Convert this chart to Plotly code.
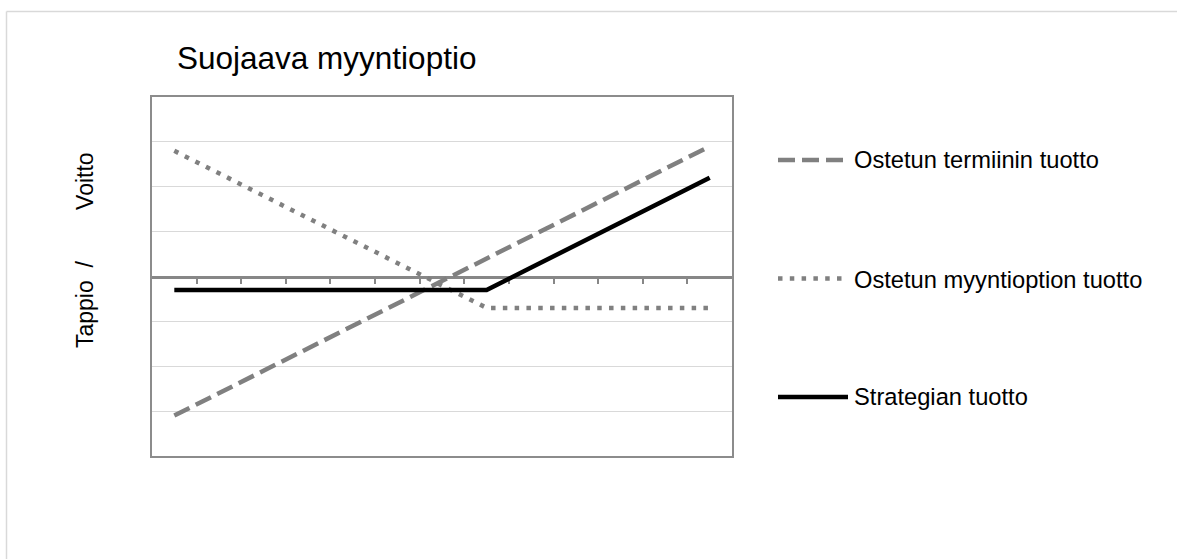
import plotly.graph_objects as go

# Payoff data (arbitrary units, one gridline = 10)
categories = list(range(13))
termiini = [-31, -26, -21, -16, -11, -6, -1, 4, 9, 14, 19, 24, 29]
myyntioptio = [28, 23, 18, 13, 8, 3, -2, -7, -7, -7, -7, -7, -7]
strategia = [-3, -3, -3, -3, -3, -3, -3, -3, 2, 7, 12, 17, 22]

series_names = ["Ostetun termiinin tuotto", "Ostetun myyntioption tuotto", "Strategian tuotto"]
title_text = "Suojaava myyntioptio"
NB = "\u00a0"
y_title = "Tappio" + NB * 2 + "/" + NB * 8 + "Voitto"

W, H = 1177, 559
FONT = "Liberation Sans, Arial, sans-serif"
GRAY = "#808080"


def fx(p):
    return p / W


def fy(p):
    return 1 - p / H


# plot area in pixels
PL, PR, PT, PB = 152, 732, 97, 456
ydom = [fy(PB), fy(PT)]

styles = [
    dict(color=GRAY, width=4.5, dash="17px,7px"),
    dict(color=GRAY, width=4.5, dash="4.5px,7.3px"),
    dict(color="#000000", width=4.5, dash="solid"),
]
values = [termiini, myyntioptio, strategia]

fig = go.Figure()

for name, vals, st in zip(series_names, values, styles):
    fig.add_trace(go.Scatter(
        x=categories, y=vals, name=name, mode="lines",
        line=st, showlegend=False, hoverinfo="skip",
        xaxis="x", yaxis="y",
    ))

# carrier trace for the category axis crossing at zero
fig.add_trace(go.Scatter(
    x=categories, y=[0] * len(categories), mode="lines",
    line=dict(width=0), showlegend=False, hoverinfo="skip",
    xaxis="x2", yaxis="y",
))

# legend keys drawn on their own small axes
legend_rows = [2, 1, 0]
for name, st, row in zip(series_names, styles, legend_rows):
    fig.add_trace(go.Scatter(
        x=[0, 1], y=[row, row], mode="lines", line=st,
        showlegend=False, hoverinfo="skip", xaxis="x3", yaxis="y3",
    ))

row_px = [160, 280, 397]
unit = (row_px[2] - row_px[0]) / 2.0
leg_top = row_px[0] - 0.5 * unit
leg_bot = row_px[2] + 0.5 * unit

annotations = [
    dict(text=title_text, x=fx(175), y=fy(58), xref="paper", yref="paper",
         xanchor="left", yanchor="middle", showarrow=False,
         font=dict(family=FONT, size=31.5, color="#000000")),
    dict(text=y_title, x=fx(85), y=fy(250), xref="paper", yref="paper",
         xanchor="center", yanchor="middle", textangle=-90, showarrow=False,
         font=dict(family=FONT, size=23, color="#000000")),
]
for name, py in zip(series_names, row_px):
    annotations.append(dict(
        text=name, x=fx(852), y=fy(py), xref="paper", yref="paper",
        xanchor="left", yanchor="middle", showarrow=False,
        font=dict(family=FONT, size=23.7, color="#000000"),
    ))

# chart-area frame (top and left edges fall inside the page)
frame = dict(color="#d9d9d9", width=1.5)
shapes = [
    dict(type="line", xref="paper", yref="paper",
         x0=fx(6.5), x1=1.0, y0=fy(11.5), y1=fy(11.5), line=frame, layer="below"),
    dict(type="line", xref="paper", yref="paper",
         x0=fx(6.5), x1=fx(6.5), y0=0.0, y1=fy(11.5), line=frame, layer="below"),
]

fig.update_layout(
    width=W, height=H,
    margin=dict(l=0, r=0, t=0, b=0),
    paper_bgcolor="white", plot_bgcolor="white",
    showlegend=False,
    xaxis=dict(
        domain=[fx(PL), fx(PR)], range=[-0.5, 12.5], anchor="y",
        showline=True, mirror=True, linecolor="#8c8c8c", linewidth=1.5,
        showgrid=False, zeroline=False, showticklabels=False, ticks="",
        fixedrange=True,
    ),
    yaxis=dict(
        domain=ydom, range=[-40, 40], tick0=0, dtick=10, anchor="x",
        showgrid=True, gridcolor="#d9d9d9", gridwidth=1,
        showline=True, mirror=True, linecolor="#8c8c8c", linewidth=1.5,
        zeroline=False, showticklabels=False, ticks="",
        fixedrange=True,
    ),
    xaxis2=dict(
        overlaying="x", anchor="free", position=(ydom[0] + ydom[1]) / 2,
        side="bottom", range=[-0.5, 12.5],
        showline=True, linecolor="#878787", linewidth=2.5,
        ticks="outside", ticklen=6, tickwidth=2, tickcolor="#878787",
        tickvals=[i + 0.5 for i in categories[:-1]],
        showticklabels=False, showgrid=False, zeroline=False,
        layer="below traces", fixedrange=True,
    ),
    xaxis3=dict(domain=[fx(778), fx(848)], range=[0, 1], anchor="y3",
                visible=False, fixedrange=True),
    yaxis3=dict(domain=[fy(leg_bot), fy(leg_top)], range=[-0.5, 2.5],
                anchor="x3", visible=False, fixedrange=True),
    annotations=annotations,
    shapes=shapes,
)

fig.write_html("out.html", config={"displayModeBar": False})
